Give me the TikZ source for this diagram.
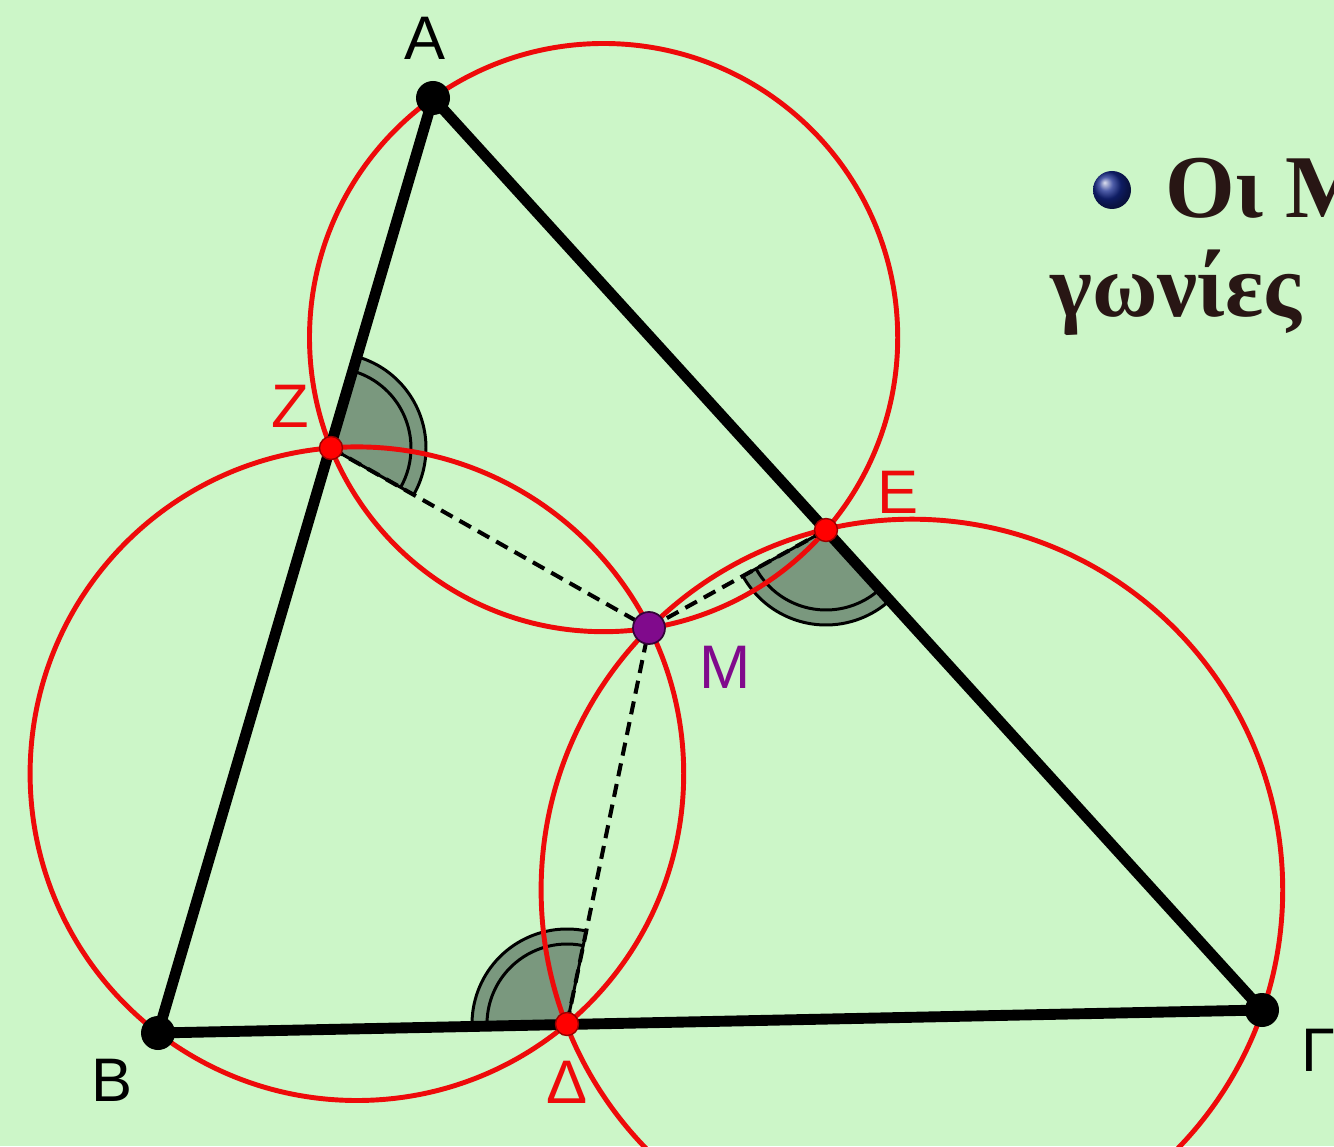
\documentclass[tikz,border=0pt]{standalone}
\usepackage{fontspec}
\setmainfont{Liberation Sans}
\newfontfamily\grserif{Liberation Serif}
\usetikzlibrary{calc}
\definecolor{bgc}{RGB}{204,246,200}
\definecolor{redc}{RGB}{238,10,10}
\definecolor{secf}{RGB}{122,152,126}
\definecolor{mpurple}{RGB}{128,10,140}
\definecolor{txtc}{RGB}{40,22,20}
\definecolor{bulletc}{RGB}{20,40,140}
\newcommand\angmark[3]{%
  \fill[secf] (#1) -- ($(#1)+(#2:95)$) arc[start angle=#2,end angle=#3,radius=95] -- cycle;
  \draw[secline] ($(#1)+(#2:95)$) -- (#1);
  \draw[secline] ($(#1)+(#2:95)$) arc[start angle=#2,end angle=#3,radius=95];
  \draw[secline] ($(#1)+(#2:80)$) arc[start angle=#2,end angle=#3,radius=80];
}
\begin{document}
\begin{tikzpicture}[x=0.02cm,y=0.02cm,
  tri/.style={line width=6.2pt, black, line join=round, line cap=round},
  circ/.style={draw=redc, line width=2.8pt},
  dsh/.style={line width=2.3pt, black, dash pattern=on 7.5pt off 4.5pt},
  secline/.style={line width=1.7pt, black},
  vlabel/.style={inner sep=0pt, font=\fontsize{35}{40}\selectfont},
  vdot/.style={circle, fill=black, minimum size=34*0.02cm, inner sep=0pt},
  rdot/.style={circle, fill=red, draw=red!60!black, line width=0.8pt, minimum size=23*0.02cm, inner sep=0pt},
  mdot/.style={circle, fill=mpurple, draw=mpurple!40!black, line width=1pt, minimum size=32*0.02cm, inner sep=0pt},
  grtext/.style={inner sep=0pt, anchor=base west, font=\grserif\bfseries\fontsize{51}{60}\selectfont}]
\useasboundingbox (0,0) rectangle (1334,1146);
\clip (0,0) rectangle (1334,1146);
\fill[bgc] (0,0) rectangle (1334,1146);

% points
\coordinate (A) at (433,1048);
\coordinate (B) at (158,113);
\coordinate (G) at (1262,136);
\coordinate (Z) at (331,698);
\coordinate (E) at (826,616);
\coordinate (D) at (567,122);
\coordinate (M) at (649,518);
\coordinate (C1) at (603.6,808.4);
\coordinate (C2) at (356.9,372.3);
\coordinate (C3) at (911.9,256);

% angle marks
\angmark{Z}{-29.5}{73.75}
\angmark{E}{208.97}{312.25}
\angmark{D}{78.3}{181.26}

% circles
\draw[circ] (C1) circle[radius=294.1];
\draw[circ] (C2) circle[radius=326.8];
\draw[circ] (C3) circle[radius=370.8];

% dashed
\draw[dsh] (Z) -- (M);
\draw[dsh] (E) -- (M);
\draw[dsh] (D) -- (M);

% triangle
\draw[tri] (A) -- (B) -- (G) -- cycle;

% dots
\node[vdot] (nA) at (A) {};
\node[vdot] (nB) at (B) {};
\node[vdot] (nG) at (G) {};
\node[rdot] (nZ) at (Z) {};
\node[rdot] (nE) at (E) {};
\node[rdot] (nD) at (D) {};
\node[mdot] (nM) at (M) {};

% labels
\node[vlabel] (lA) at (425,1108) {A};
\node[vlabel] (lB) at (112,66) {B};
\node[vlabel] (lG) at (1318,96) {Γ};
\node[vlabel, text=redc] (lZ) at (290,740) {Z};
\node[vlabel, text=redc] (lE) at (898,654) {E};
\node[vlabel, text=redc] (lD) at (567,64) {Δ};
\node[vlabel, text=mpurple] (lM) at (725,479) {M};

% right text
\shade[ball color=bulletc] (1112,956) circle[radius=19];
\node[grtext, text=txtc] (t1) at (1165,928) {Οι Μ};
\node[grtext, text=txtc] (t2) at (1050,829) {γωνίες};
\end{tikzpicture}
\end{document}
